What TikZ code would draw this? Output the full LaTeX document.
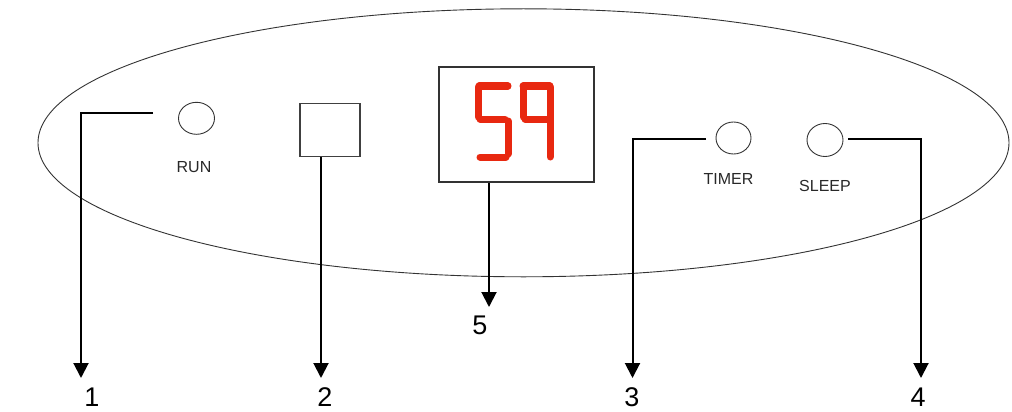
\documentclass[tikz,border=0pt]{standalone}
\usepackage{fontspec}
\setmainfont{Liberation Sans}
\usetikzlibrary{shapes.geometric,arrows.meta}
\definecolor{segred}{RGB}{232,40,16}
\definecolor{txtgray}{RGB}{40,40,40}
\tikzset{
  panel/.style={draw=black!80, line width=0.9pt},
  button/.style={ellipse, draw=black!80, line width=0.9pt, inner sep=0pt},
  blabel/.style={font=\fontsize{16}{16}\selectfont, text=txtgray, inner sep=0pt},
  numlabel/.style={font=\fontsize{27}{27}\selectfont, inner sep=0pt},
  leader/.style={draw=black, line width=2pt, -{Triangle[width=15pt,length=15pt]}},
  seg/.style={draw=segred, line width=7pt, line cap=round},
}
\begin{document}
\begin{tikzpicture}[x=1pt,y=-1pt]
\useasboundingbox (0,0) rectangle (1012,412);
% panel outline
\draw[panel] (523.5,142.8) ellipse [x radius=485.5, y radius=134];
% buttons and labels
\node[button, minimum width=36pt, minimum height=32pt] (run) at (196.5,118.3) {};
\node[blabel] (runl) at (194,167.5) {RUN};
\node[draw=black!75, line width=1.2pt, minimum width=60pt, minimum height=53pt, inner sep=0pt] (sq) at (330,130.3) {};
\node[draw=black!80, line width=1.3pt, minimum width=155pt, minimum height=115pt, inner sep=0pt] (disp) at (516.5,124.5) {};
\node[button, minimum width=35pt, minimum height=32pt] (timer) at (733.5,138) {};
\node[blabel] (timerl) at (728.5,178.5) {TIMER};
\node[button, minimum width=36pt, minimum height=33pt] (sleep) at (825,140) {};
\node[blabel] (sleepl) at (825,185.5) {SLEEP};
% seven segment "59"
\draw[seg] (479,86)--(508,86);
\draw[seg] (478,87)--(478,117);
\draw[seg] (480,119)--(505,119);
\draw[seg] (508,121)--(508,154);
\draw[seg] (480,157)--(506,157);
\draw[seg] (523,86)--(550,86);
\draw[seg] (523,87)--(523,117);
\draw[seg] (525,119)--(547,119);
\draw[seg] (550,87)--(550,157);
% number labels
\node[numlabel] (n1) at (92,397) {1};
\node[numlabel] (n2) at (325,397) {2};
\node[numlabel] (n5) at (480,325) {5};
\node[numlabel] (n3) at (632,397) {3};
\node[numlabel] (n4) at (918,397) {4};
% leader ends
\coordinate (s1) at (153,113.3);
\coordinate (e1) at (81,378);
\coordinate (e2) at (321,378);
\coordinate (e5) at (489,307);
\coordinate (s3) at (706,139.3);
\coordinate (e3) at (632.5,378);
\coordinate (s4) at (848,139.3);
\coordinate (e4) at (921,378);
% leaders
\draw[leader] (s1) -| (e1);
\draw[leader] (sq.south -| e2) -- (e2);
\draw[leader] (disp.south -| e5) -- (e5);
\draw[leader] (s3) -| (e3);
\draw[leader] (s4) -| (e4);
\end{tikzpicture}
\end{document}
